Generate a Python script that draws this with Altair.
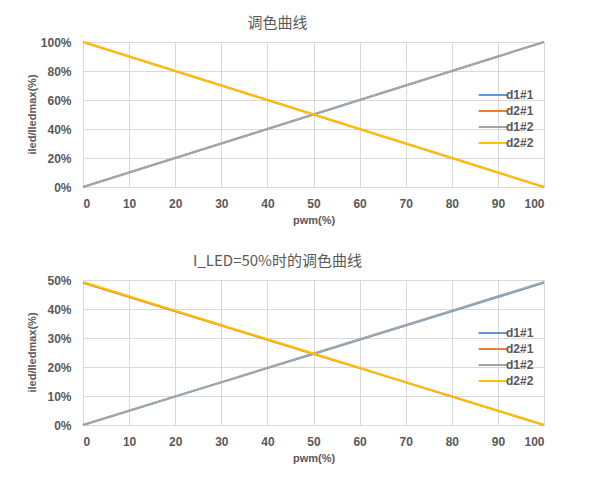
import altair as alt
import pandas as pd

pwm = [0, 10, 20, 30, 40, 50, 60, 70, 80, 90, 100]
series = ["d1#1", "d2#1", "d1#2", "d2#2"]
colors = ["#5B9BD5", "#ED7D31", "#A5A5A5", "#FFC000"]

top_vals = {
    "d1#1": [0, 10, 20, 30, 40, 50, 60, 70, 80, 90, 100],
    "d2#1": [100, 90, 80, 70, 60, 50, 40, 30, 20, 10, 0],
    "d1#2": [0, 10, 20, 30, 40, 50, 60, 70, 80, 90, 100],
    "d2#2": [100, 90, 80, 70, 60, 50, 40, 30, 20, 10, 0],
}
bot_vals = {
    "d1#1": [0, 4.9, 9.8, 14.7, 19.6, 24.5, 29.4, 34.3, 39.2, 44.1, 49.0],
    "d2#1": [49.0, 44.1, 39.2, 34.3, 29.4, 24.5, 19.6, 14.7, 9.8, 4.9, 0],
    "d1#2": [0, 4.93, 9.86, 14.79, 19.72, 24.65, 29.58, 34.51, 39.44, 44.37, 49.3],
    "d2#2": [49.3, 44.37, 39.44, 34.51, 29.58, 24.65, 19.72, 14.79, 9.86, 4.93, 0],
}


def to_df(vals):
    rows = []
    for s in series:
        for x, y in zip(pwm, vals[s]):
            rows.append({"pwm": x, "val": y, "series": s})
    return pd.DataFrame(rows)


FONT = "Liberation Sans"
CJK = "Noto Sans CJK SC"
GRAY = "#595959"


def panel(df, title, ymax, ystep):
    return alt.Chart(df, title=alt.TitleParams(
        title, font=CJK, fontSize=15, fontWeight="normal", color=GRAY, offset=5, dx=-36
    )).mark_line(strokeWidth=2).encode(
        x=alt.X("pwm:Q", scale=alt.Scale(domain=[0, 100], nice=False),
                axis=alt.Axis(values=pwm, title="pwm(%)", grid=True, gridColor="#d9d9d9",
                              domain=False, ticks=False, labelPadding=11,
                              labelFont=FONT, labelFontSize=12, labelFontWeight="bold",
                              labelColor=GRAY, titleFont=FONT, titleFontSize=11,
                              titleFontWeight="bold", titleColor=GRAY, titlePadding=5)),
        y=alt.Y("val:Q", scale=alt.Scale(domain=[0, ymax], nice=False),
                axis=alt.Axis(values=list(range(0, ymax + 1, ystep)), title="iled/Iledmax(%)",
                              labelExpr="datum.value + '%'",
                              grid=True, gridColor="#d9d9d9", domain=False, ticks=False,
                              labelPadding=12, labelFont=FONT, labelFontSize=12,
                              labelFontWeight="bold", labelColor=GRAY, titleFont=FONT,
                              titleFontSize=11, titleFontWeight="bold", titleColor=GRAY,
                              titleX=-51, titleY=72, titleAngle=-90, titleBaseline="middle",
                              titleAnchor="middle")),
        color=alt.Color("series:N", scale=alt.Scale(domain=series, range=colors),
                        legend=alt.Legend(title=None, orient="none", legendX=401, legendY=44,
                                          symbolType="M-1.8,0L1.8,0", symbolSize=256,
                                          symbolStrokeWidth=2, labelFont=FONT,
                                          labelFontSize=12, labelFontWeight="bold",
                                          labelColor=GRAY, rowPadding=1, labelOffset=4)),
    ).properties(width=461, height=145)


top = panel(to_df(top_vals), "调色曲线", 100, 20)
bot = panel(to_df(bot_vals), "I_LED=50%时的调色曲线", 50, 10)

chart = alt.vconcat(top, bot, spacing=27).resolve_scale(color="independent").configure_view(
    stroke=None
).properties(padding={"left": 17, "top": 7, "right": 5, "bottom": 5}).configure(background="white")

chart.save("out.html", embed_options={"renderer": "svg", "actions": False})
